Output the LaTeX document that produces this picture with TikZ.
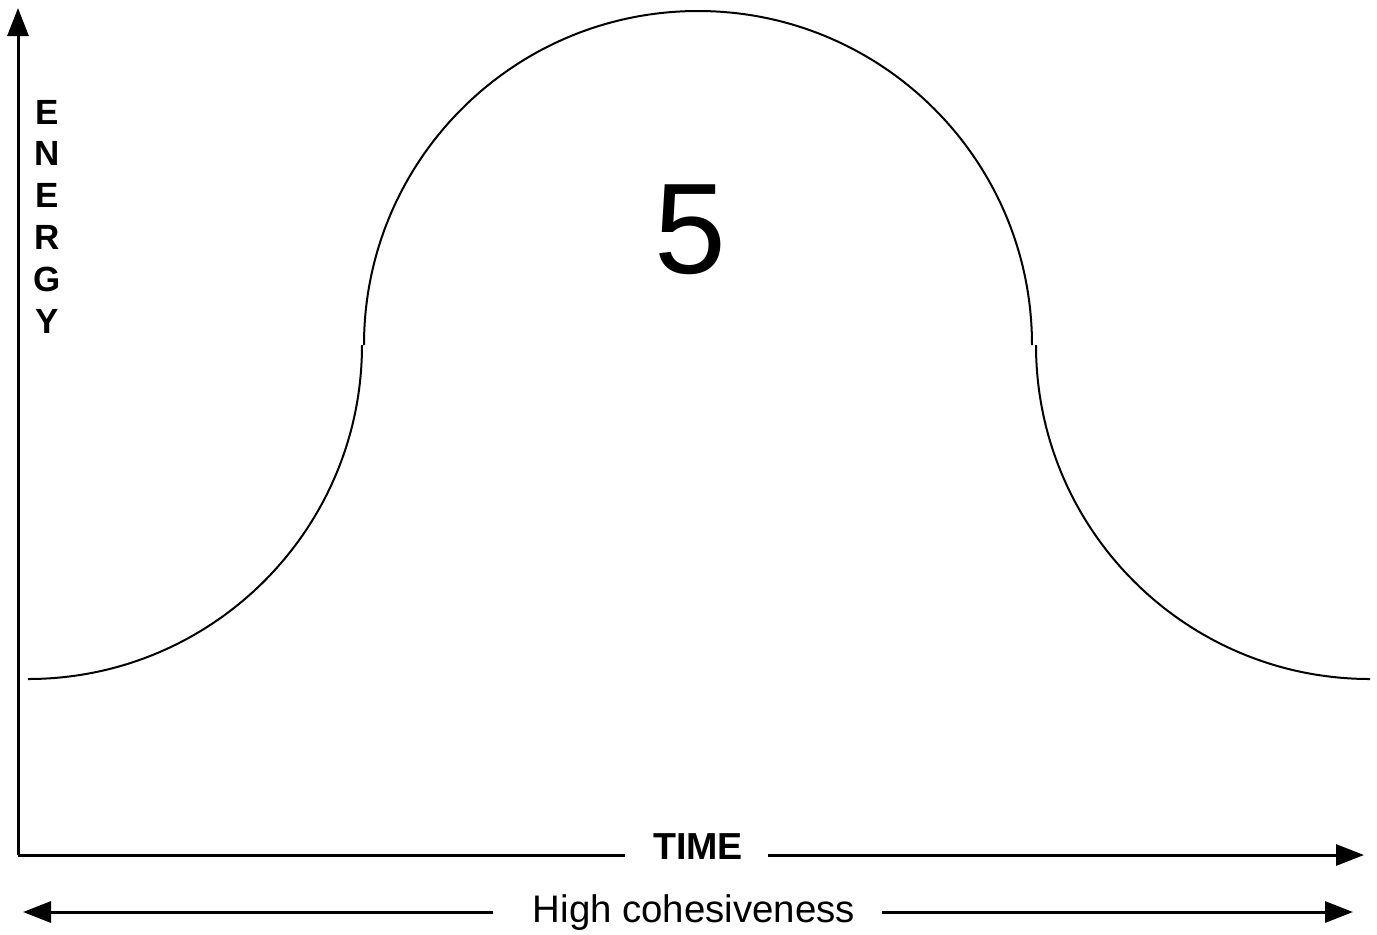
\documentclass[tikz,border=0pt]{standalone}
\usepackage{fontspec}
\setmainfont{Liberation Sans}
\usetikzlibrary{arrows.meta}
\begin{document}
\begin{tikzpicture}[x=0.5pt,y=-0.5pt,
  axis/.style={line width=1.5pt,-{Triangle[length=14pt,width=10.5pt]}},
  curve/.style={line width=1pt},
  lbl/.style={inner sep=0pt,font=\fontsize{19.2}{21}\selectfont}]
\useasboundingbox (0,0) rectangle (1377,934);
% axes
\coordinate (O) at (18,855);
\coordinate (ytip) at (18,8);
\coordinate (xtip) at (1364,855);
\coordinate (tl) at (625,855);
\coordinate (tr) at (768,855);
\draw[axis] (O) -- (ytip);
\draw[line width=1.5pt] (O) -- (tl);
\draw[axis] (tr) -- (xtip);
\node[lbl,font=\fontsize{18.8}{20}\selectfont\bfseries,anchor=base] (time) at (698,859) {TIME};
% energy label
\node[inner sep=0pt,align=center,font=\fontsize{17.5}{20.9}\selectfont\bfseries] (energy) at (47,216.5) {E\\N\\E\\R\\G\\Y};
% bottom arrow
\coordinate (bl) at (493,912);
\coordinate (bltip) at (23,912);
\coordinate (br) at (882,912);
\coordinate (brtip) at (1353,912);
\draw[axis] (bl) -- (bltip);
\draw[axis] (br) -- (brtip);
\node[lbl,anchor=base] (coh) at (694,922) {High cohesiveness};
% curve
\coordinate (c1) at (28,679);
\coordinate (c2) at (364,345);
\coordinate (c3) at (1036,345);
\draw[curve] (c1) arc[start angle=90,end angle=0,radius=334];
\draw[curve] (c2) arc[start angle=180,end angle=360,radius=334];
\draw[curve] (c3) arc[start angle=180,end angle=90,radius=334];
\node[inner sep=0pt,font=\fontsize{64.5}{70}\selectfont] (five) at (690,230) {5};
\end{tikzpicture}
\end{document}
